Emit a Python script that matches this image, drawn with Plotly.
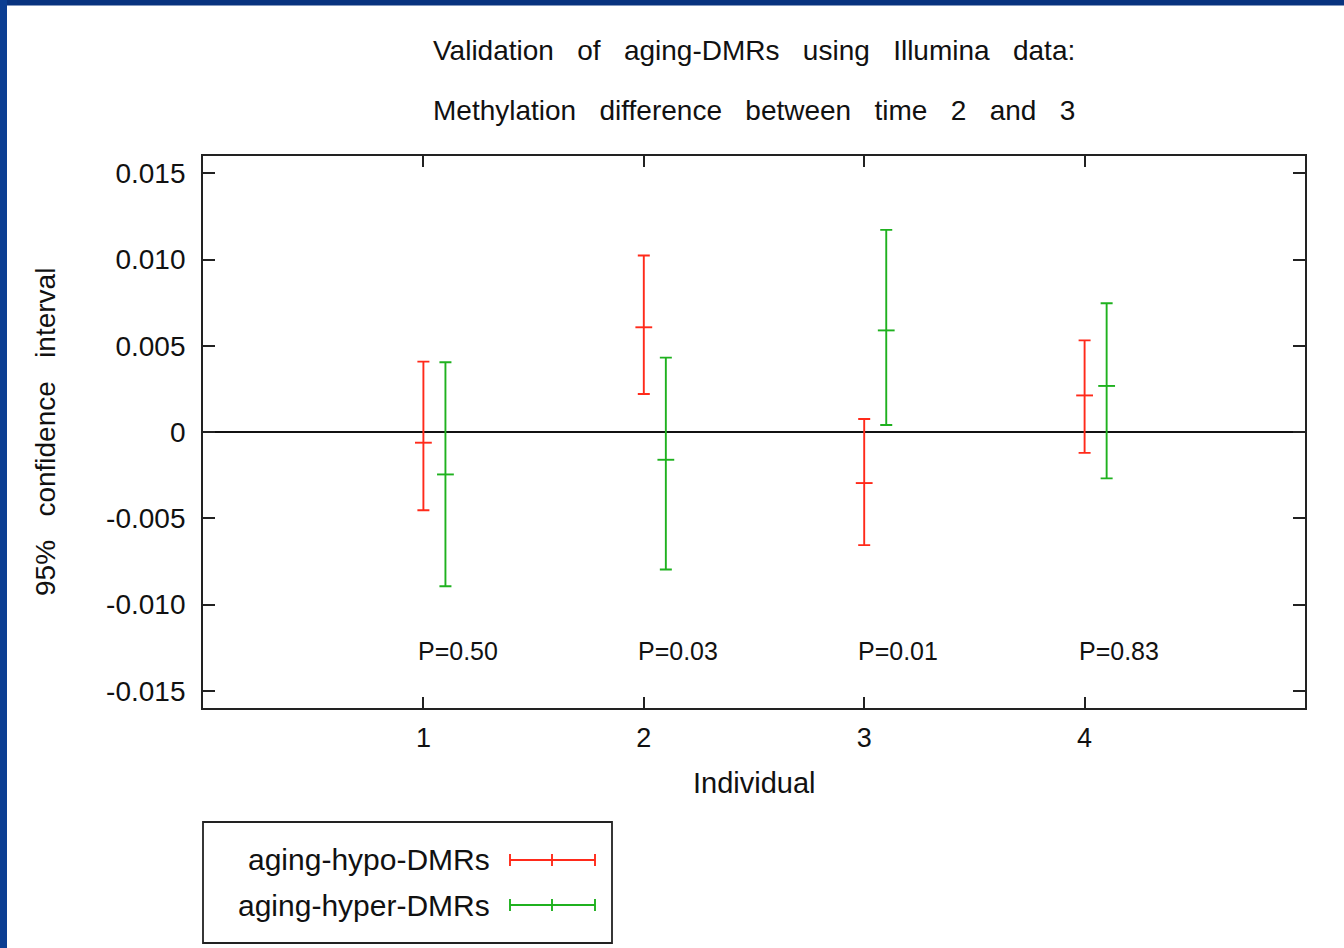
import plotly.graph_objects as go

# ---- data ----
individuals = [1, 2, 3, 4]
hypo_mid = [-0.00062, 0.00607, -0.00296, 0.00212]
hypo_low = [-0.00454, 0.00220, -0.00656, -0.00121]
hypo_high = [0.00408, 0.01023, 0.00075, 0.00531]
hyper_mid = [-0.00246, -0.00161, 0.00589, 0.00267]
hyper_low = [-0.00894, -0.00797, 0.00041, -0.00269]
hyper_high = [0.00404, 0.00431, 0.01172, 0.00746]
p_labels = ["P=0.50", "P=0.03", "P=0.01", "P=0.83"]
p_label_y = -0.0127
series_names = ["aging-hypo-DMRs", "aging-hyper-DMRs"]
y_ticks = [-0.015, -0.010, -0.005, 0, 0.005, 0.010, 0.015]
y_tick_text = ["-0.015", "-0.010", "-0.005", "0", "0.005", "0.010", "0.015"]

RED = "#ff2a1a"
GREEN = "#1fb11f"
FONT = "Liberation Sans, Arial, sans-serif"
W, H = 1344, 948
L, R, T, B = 203, 39, 156, 240
PW, PH = W - L - R, H - T - B
LW = 1.9


def px(x):
    return (x - L) / PW


def py(y):
    return (H - B - y) / PH


SP = "\u00a0 \u00a0"

fig = go.Figure()


def add_series(xoff, mid, low, high, color, name):
    xs = [i + xoff for i in individuals]
    fig.add_trace(go.Scatter(
        x=xs, y=mid, mode="markers", name=name, showlegend=False,
        marker=dict(symbol="line-ew", size=12, color=color,
                    line=dict(color=color, width=LW)),
        error_y=dict(type="data", symmetric=False,
                     array=[h - m for h, m in zip(high, mid)],
                     arrayminus=[m - l for m, l in zip(mid, low)],
                     color=color, thickness=LW, width=6),
    ))


add_series(0.0, hypo_mid, hypo_low, hypo_high, RED, series_names[0])
add_series(0.1, hyper_mid, hyper_low, hyper_high, GREEN, series_names[1])

annotations = []
for i, lab in zip(individuals, p_labels):
    annotations.append(dict(x=i - 0.035, y=p_label_y, xref="x", yref="y",
                            text=lab, showarrow=False, xanchor="left",
                            yanchor="middle", font=dict(size=25, family=FONT, color="#111")))

annotations += [
    dict(x=0.5, y=py(51), xref="paper", yref="paper", showarrow=False,
         text=f"Validation{SP}of{SP}aging-DMRs{SP}using{SP}Illumina{SP}data:",
         font=dict(size=28, family=FONT, color="#111"), xanchor="center", yanchor="middle"),
    dict(x=0.5, y=py(111), xref="paper", yref="paper", showarrow=False,
         text=f"Methylation{SP}difference{SP}between{SP}time{SP}2{SP}and{SP}3",
         font=dict(size=28, family=FONT, color="#111"), xanchor="center", yanchor="middle"),
    dict(x=px(45), y=0.5, xref="paper", yref="paper", showarrow=False,
         text=f"95%{SP}confidence{SP}interval", textangle=-90,
         font=dict(size=28, family=FONT, color="#111"), xanchor="center", yanchor="middle"),
    dict(x=0.5, y=py(783), xref="paper", yref="paper", showarrow=False,
         text="Individual", font=dict(size=29, family=FONT, color="#111"),
         xanchor="center", yanchor="middle"),
]

shapes = [
    # blue frame strips
    dict(type="rect", xref="paper", yref="paper", x0=px(0), x1=px(W), y0=py(0), y1=py(5.5),
         fillcolor="#08337f", line=dict(width=0), layer="above"),
    dict(type="rect", xref="paper", yref="paper", x0=px(0), x1=px(7), y0=py(0), y1=py(H),
         fillcolor="#0b3e92", line=dict(width=0), layer="above"),
    # legend box
    dict(type="rect", xref="paper", yref="paper", x0=px(203), x1=px(612), y0=py(822), y1=py(943),
         line=dict(color="#222", width=1.8), fillcolor="rgba(0,0,0,0)"),
]

for yy, color, name in [(860, RED, series_names[0]), (905, GREEN, series_names[1])]:
    annotations.append(dict(x=px(492), y=py(yy), xref="paper", yref="paper", showarrow=False,
                            text=name, xanchor="right", yanchor="middle",
                            font=dict(size=30, family=FONT, color="#111")))
    shapes.append(dict(type="line", xref="paper", yref="paper", x0=px(510), x1=px(595),
                       y0=py(yy), y1=py(yy), line=dict(color=color, width=LW)))
    for xx in (510, 552, 595):
        shapes.append(dict(type="line", xref="paper", yref="paper", x0=px(xx), x1=px(xx),
                           y0=py(yy - 6), y1=py(yy + 6), line=dict(color=color, width=LW)))

fig.update_layout(
    width=W, height=H,
    margin=dict(l=L, r=R, t=T, b=B),
    paper_bgcolor="white", plot_bgcolor="white",
    showlegend=False,
    annotations=annotations,
    shapes=shapes,
    font=dict(family=FONT, color="#111"),
)
fig.update_xaxes(
    range=[0, 5], tickvals=individuals, ticktext=[str(i) for i in individuals],
    ticks="inside", ticklen=11, tickwidth=1.6, tickcolor="#222",
    showline=True, linecolor="#222", linewidth=1.8, mirror="ticks",
    showgrid=False, zeroline=False, tickfont=dict(size=27, family=FONT, color="#111"),
    ticklabelstandoff=5,
)
fig.update_yaxes(
    range=[-0.016, 0.016], tickvals=y_ticks, ticktext=y_tick_text,
    ticks="inside", ticklen=12, tickwidth=1.6, tickcolor="#222",
    showline=True, linecolor="#222", linewidth=1.8, mirror="ticks",
    showgrid=False, zeroline=True, zerolinecolor="#111", zerolinewidth=1.8,
    tickfont=dict(size=28, family=FONT, color="#111"),
    ticklabelstandoff=10,
)

fig.write_html("out.html", config={"displayModeBar": False},
               post_script="document.body.style.margin='0';document.body.style.padding='0';")
